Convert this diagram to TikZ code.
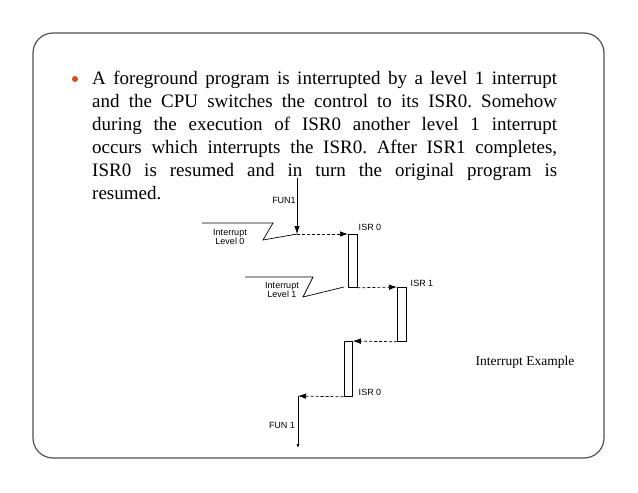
\documentclass[tikz,border=0pt]{standalone}
\usepackage{fontspec}
\setmainfont{Liberation Serif}
\newfontfamily\diagfont{Liberation Sans}
\usetikzlibrary{arrows.meta}
\definecolor{bulletorange}{HTML}{D2501E}
\definecolor{framegray}{HTML}{505050}
\frenchspacing
\begin{document}
\begin{tikzpicture}[x=1pt,y=-1pt,
  isrbox/.style={draw, line width=0.8pt, minimum width=8.5pt, inner sep=0pt},
  lbl/.style={font=\diagfont\fontsize{9}{9.5}\selectfont, inner sep=0pt, align=center},
  flow/.style={densely dashed, line width=0.7pt, -{Latex[length=8pt,width=5.5pt]}},
  solid/.style={line width=0.7pt}]
\useasboundingbox (0,0) rectangle (638,493);
\draw[framegray, line width=1.2pt, rounded corners=20pt] (33,33) rectangle (604,458);
\node[circle, fill=bulletorange, minimum size=6pt, inner sep=0pt] (dot) at (75,79) {};
\node[anchor=north west, text width=465pt, align=justify, inner sep=0pt,
  font=\fontsize{19}{23}\selectfont] (txt) at (92,71) {A foreground program is interrupted by a level 1 interrupt\linebreak
and the CPU switches the control to its ISR0. Somehow\linebreak
during the execution of ISR0 another level 1 interrupt\linebreak
occurs which interrupts the ISR0. After ISR1 completes,\linebreak
ISR0 is resumed and in turn the original program is\linebreak
resumed.};
\node[lbl] (fun1) at (284,200) {FUN1};
\node[lbl] (lvl0) at (230,237) {Interrupt\\Level 0};
\node[lbl] (lvl1) at (282,290) {Interrupt\\Level 1};
\node[isrbox, minimum height=53pt, anchor=north west] (isr0a) at (348,234) {};
\node[isrbox, minimum height=54pt, anchor=north west] (isr1) at (397,287) {};
\node[isrbox, minimum height=55pt, anchor=north west] (isr0b) at (343.5,341) {};
\node[lbl] (isr0alab) at (370,227) {ISR 0};
\node[lbl] (isr1lab) at (422,283) {ISR 1};
\node[lbl] (isr0blab) at (370,392) {ISR 0};
\node[lbl] (fun1b) at (282,425) {FUN 1};
\node[font=\fontsize{13.5}{15}\selectfont, inner sep=0pt] (cap) at (525,362) {Interrupt Example};
\coordinate (fstart) at (297,178);
\coordinate (hit0) at (297,234);
\coordinate (hit1) at (344,287);
\coordinate (back) at (298,396);
\coordinate (fend) at (298,448);
\draw[solid, -{Latex[length=8pt,width=5.5pt]}] (fstart) -- (hit0);
\draw[solid] (202,223) -- (273,223) -- (263,240) -- (hit0);
\draw[solid] (245,277) -- (313,277) -- (303,297) -- (hit1);
\draw[flow] (hit0) -- (isr0a.north west);
\draw[flow] (isr0a.south east) -- (isr1.north west);
\draw[flow] (isr1.south west) -- (isr0b.north east);
\draw[flow] (isr0b.south west) -- (back);
\draw[solid, -{Latex[length=4pt,width=3pt]}] (back) -- (fend);
\end{tikzpicture}
\end{document}
